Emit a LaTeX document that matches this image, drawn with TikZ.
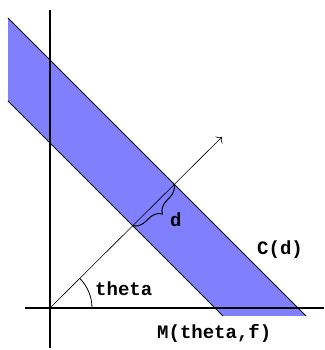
\documentclass[tikz,border=0pt]{standalone}
\usepackage{fontspec}
\setmonofont{Liberation Mono}
\usetikzlibrary{arrows.meta,decorations.pathreplacing}
\definecolor{bandblue}{RGB}{128,128,255}
\begin{document}
\begin{tikzpicture}[x=1pt,y=1pt,>={To[scale=1.6]},
  lbl/.style={anchor=base west,inner sep=0pt,font=\ttfamily\bfseries\fontsize{19pt}{19pt}\selectfont}]
\useasboundingbox (0,0) rectangle (324,350);
\coordinate (O) at (50,42);
\coordinate (P) at (132.5,124.5);
\coordinate (Q) at (174,166);
\coordinate (E) at (222,213);
% the band C(d)
\fill[bandblue] (8,332) -- (306,34) -- (223,34) -- (8,249) -- cycle;
\draw[line width=0.8pt] (8,332) -- (306,34);
\draw[line width=0.8pt] (8,249) -- (223,34);
% axes
\draw[line width=1.2pt] (50,340) -- (50,2);
\draw[line width=1.2pt] (25,42) -- (324,42);
% normal direction
\draw[->,line width=0.6pt] (O) -- (E);
\draw[line width=0.8pt] ([shift={(42,0)}]O) arc (0:45:42);
\draw[line width=1pt,decorate,decoration={brace,amplitude=13pt,mirror}] (P) -- (Q);
\node[lbl] (lbltheta) at (95,54) {theta};
\node[lbl] (lbld) at (170,123) {d};
\node[lbl] (lblC) at (257,95) {C(d)};
\node[lbl] (lblM) at (157,12) {M(theta,f)};
\end{tikzpicture}
\end{document}
